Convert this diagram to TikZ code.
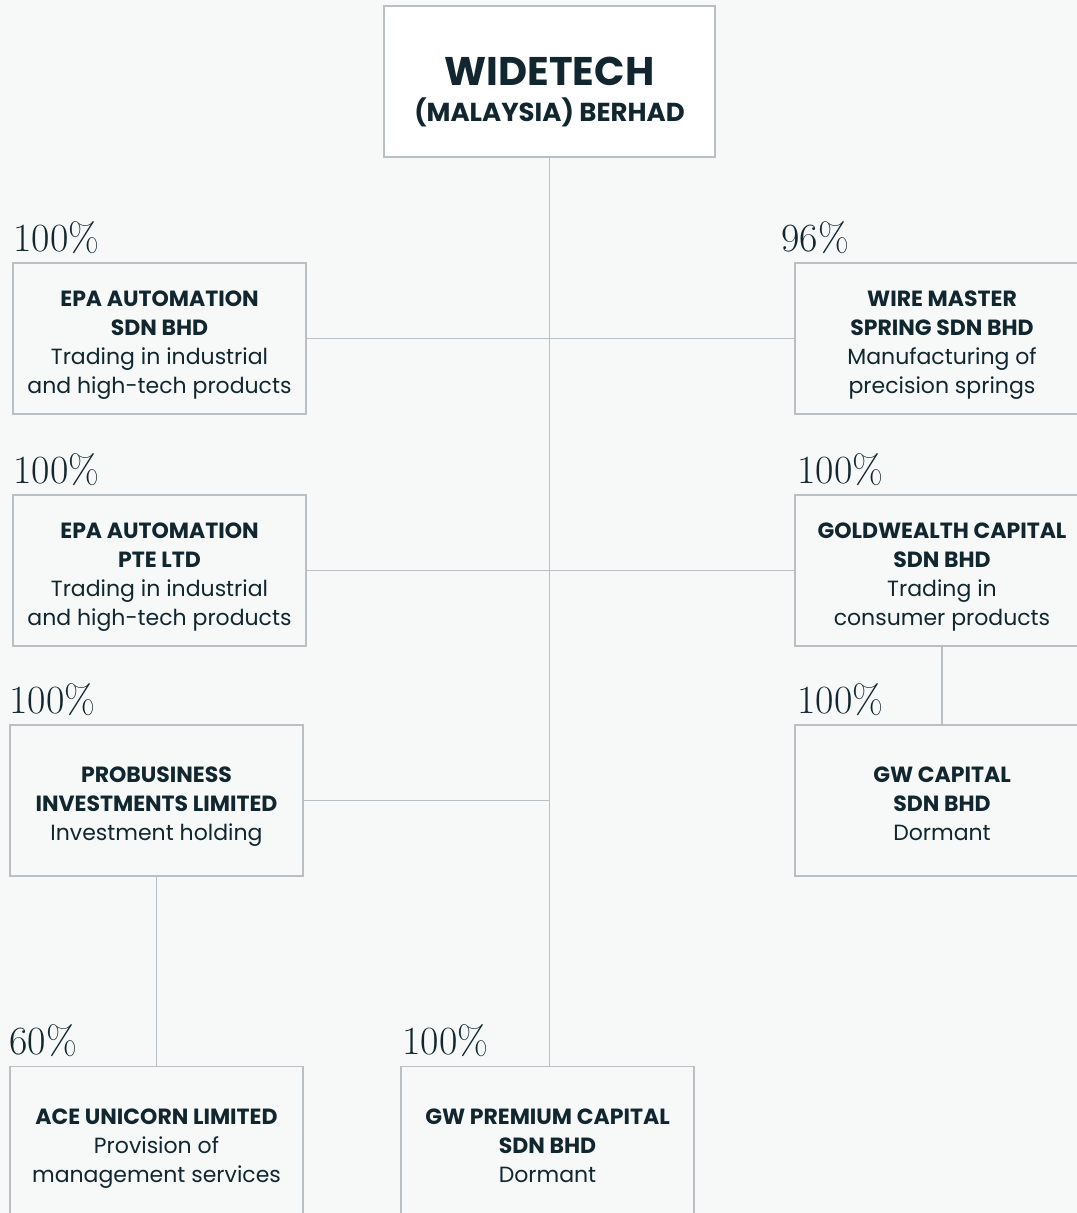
\documentclass[tikz,border=0pt]{standalone}
\usepackage{fontspec}
\newfontfamily\gothic{Poppins}
\definecolor{pagebg}{RGB}{247,249,249}
\definecolor{boxline}{RGB}{185,192,195}
\definecolor{inkdark}{RGB}{17,38,47}
\tikzset{
  unit/.style={draw=boxline, line width=1.1pt, fill=pagebg, minimum width=219.75pt, minimum height=113.25pt,
    align=center, inner sep=0pt, text=inkdark, text depth=0pt, font=\gothic\fontsize{16.5}{21.75}\selectfont},
  pct/.style={anchor=base west, inner sep=0pt, text=inkdark, font=\fontsize{30}{30}\selectfont},
  link/.style={draw=boxline, line width=1.1pt}
}
\newcommand{\coname}[1]{\textbf{\rule{0pt}{17pt}#1}}
\begin{document}
\begin{tikzpicture}[x=0.75pt,y=0.75pt,yscale=-1,xscale=1]
\useasboundingbox (0,0) rectangle (1077,1213);
\clip (0,0) rectangle (1077,1213);
\fill [pagebg] (0,0) rectangle (1077,1213);

% Holding company
\node [unit, fill=white, minimum width=248.25pt] (widetech) at (549.5,81.5)
  {{\bfseries\fontsize{30}{30}\selectfont\rule{0pt}{33pt}WIDETECH}\\[6pt]{\bfseries\fontsize{19.5}{24}\selectfont (MALAYSIA) BERHAD}};

% Subsidiaries
\node [unit] (epasdn) at (159.5,338.5) {\coname{EPA AUTOMATION}\\\coname{SDN BHD}\\Trading in industrial\\and high-tech products};
\node [unit, minimum width=220.5pt] (wiremaster) at (942,338.5) {\coname{WIRE MASTER}\\\coname{SPRING SDN BHD}\\Manufacturing of\\precision springs};
\node [unit] (epapte) at (159.5,570.5) {\coname{EPA AUTOMATION}\\\coname{PTE LTD}\\Trading in industrial\\and high-tech products};
\node [unit, minimum width=220.5pt] (goldwealth) at (942,570.5) {\coname{GOLDWEALTH CAPITAL}\\\coname{SDN BHD}\\Trading in\\consumer products};
\node [unit] (probusiness) at (156.5,800.5) {\coname{PROBUSINESS}\\\coname{INVESTMENTS LIMITED}\\Investment holding};
\node [unit, minimum width=220.5pt] (gwcapital) at (942,800.5) {\coname{GW CAPITAL}\\\coname{SDN BHD}\\Dormant};
\node [unit] (aceunicorn) at (156.5,1142) {\coname{ACE UNICORN LIMITED}\\Provision of\\management services};
\node [unit] (gwpremium) at (547.5,1142) {\coname{GW PREMIUM CAPITAL}\\\coname{SDN BHD}\\Dormant};

% Shareholdings
\node [pct] at ([shift={(1,-11)}]epasdn.north west) {100\%};
\node [pct] at ([shift={(-13,-11)}]wiremaster.north west) {96\%};
\node [pct] at ([shift={(1,-11)}]epapte.north west) {100\%};
\node [pct] at ([shift={(3,-11)}]goldwealth.north west) {100\%};
\node [pct] at ([shift={(0,-11)}]probusiness.north west) {100\%};
\node [pct] at ([shift={(3,-11)}]gwcapital.north west) {100\%};
\node [pct] at ([shift={(0,-11)}]aceunicorn.north west) {60\%};
\node [pct] at ([shift={(2,-11)}]gwpremium.north west) {100\%};

% Connectors
\draw [link] (widetech.south) -- (widetech.south |- gwpremium.north);
\draw [link] (epasdn.east) -- (wiremaster.west);
\draw [link] (epapte.east) -- (goldwealth.west);
\draw [link] (probusiness.east) -- (probusiness.east -| widetech.south);
\draw [link] (goldwealth.south) -- (gwcapital.north);
\draw [link] (probusiness.south) -- (aceunicorn.north);

\end{tikzpicture}
\end{document}
